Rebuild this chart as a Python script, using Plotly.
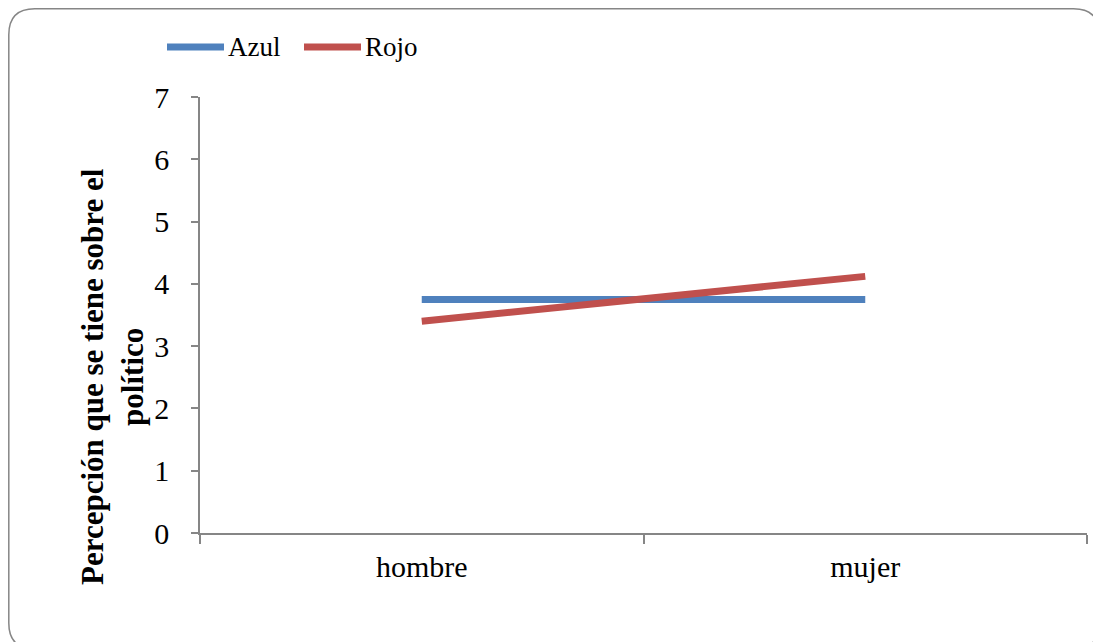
import plotly.graph_objects as go

categories = ["hombre", "mujer"]
azul = [3.75, 3.75]
rojo = [3.40, 4.12]
series_names = ["Azul", "Rojo"]
series_colors = ["#4F81BD", "#C0504D"]
y_ticks = [0, 1, 2, 3, 4, 5, 6, 7]
y_title = "Percepción que se tiene sobre el<br>político"

# page body has an 8px margin, so the figure is laid out in shifted pixels
W, H = 1093, 634
L, R, T, B = 192, 1079, 89, 525

fig = go.Figure()
for name, vals, col in zip(series_names, [azul, rojo], series_colors):
    fig.add_trace(go.Scatter(x=categories, y=vals, name=name, mode="lines",
                             line=dict(color=col, width=7), showlegend=False))

def px(x):
    return (x - L) / (R - L)

def py(y):
    return (B - y) / (B - T)

# rounded outer border (bottom edge falls just outside the visible page)
x0, y0, x1, y1, r = 0.8, 0.8, 1091.5, 641, 26
path = (f"M {px(x0 + r)} {py(y0)} L {px(x1 - r)} {py(y0)} "
        f"Q {px(x1)} {py(y0)} {px(x1)} {py(y0 + r)} "
        f"L {px(x1)} {py(y1 - r)} Q {px(x1)} {py(y1)} {px(x1 - r)} {py(y1)} "
        f"L {px(x0 + r)} {py(y1)} Q {px(x0)} {py(y1)} {px(x0)} {py(y1 - r)} "
        f"L {px(x0)} {py(y0 + r)} Q {px(x0)} {py(y0)} {px(x0 + r)} {py(y0)} Z")
fig.add_shape(type="path", path=path, xref="paper", yref="paper",
              line=dict(color="#868686", width=1.5), layer="below")

# legend drawn by hand (long line symbols as in the reference)
leg_x = [159, 296]
leg_y = 39
for name, col, lx in zip(series_names, series_colors, leg_x):
    fig.add_shape(type="line", xref="paper", yref="paper",
                  x0=px(lx), x1=px(lx + 57), y0=py(leg_y), y1=py(leg_y),
                  line=dict(color=col, width=7))
    fig.add_annotation(text=name, xref="paper", yref="paper", x=px(lx + 59), y=py(leg_y),
                       xanchor="left", yanchor="middle", showarrow=False,
                       font=dict(size=27, family="Liberation Serif", color="black"))

# y-axis title
fig.add_annotation(text=f"<b>{y_title}</b>", xref="paper", yref="paper",
                   x=px(105), y=py(369), xanchor="center", yanchor="middle",
                   textangle=-90, showarrow=False,
                   font=dict(size=31, family="Liberation Serif", color="black"))

fig.update_layout(
    width=W, height=H,
    margin=dict(l=L, r=W - R, t=T, b=H - B),
    paper_bgcolor="white", plot_bgcolor="white",
    font=dict(family="Liberation Serif", color="black"),
    showlegend=False,
    xaxis=dict(type="category", range=[-0.5, 1.5], showgrid=False, zeroline=False,
               showline=True, linecolor="#868686", linewidth=1.5,
               ticks="outside", tickson="boundaries", ticklen=9, tickcolor="#868686",
               tickwidth=1.5, tickfont=dict(size=30, family="Liberation Serif"),
               ticklabelstandoff=6, fixedrange=True),
    yaxis=dict(range=[0, 7], tickvals=y_ticks, showgrid=False, zeroline=False,
               showline=True, linecolor="#868686", linewidth=1.5,
               ticks="outside", ticklen=7, tickcolor="#868686", tickwidth=1.5,
               tickfont=dict(size=30, family="Liberation Serif"),
               ticklabelstandoff=16, fixedrange=True),
)

fig.write_html("out.html")
